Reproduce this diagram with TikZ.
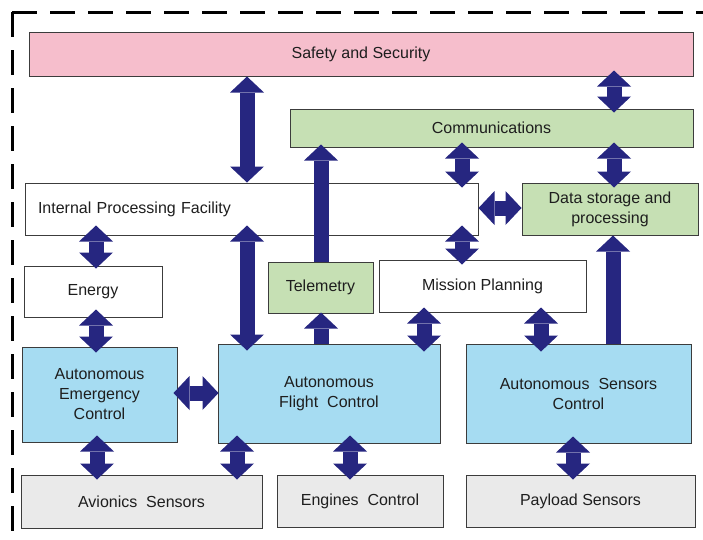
\documentclass[tikz,border=0pt]{standalone}
\usepackage{fontspec}
\setmainfont{Liberation Sans}
\usetikzlibrary{arrows.meta}
\definecolor{pinkf}{RGB}{246,190,204}
\definecolor{greenf}{RGB}{198,224,180}
\definecolor{bluef}{RGB}{166,220,242}
\definecolor{grayf}{RGB}{234,234,234}
\definecolor{boxline}{RGB}{60,60,60}
\definecolor{txt}{RGB}{30,30,30}
\definecolor{navy}{RGB}{38,38,128}
\tikzset{
  box/.style={draw=boxline, line width=1pt, inner sep=0pt, align=center,
    font=\fontsize{16}{20}\selectfont, text=txt},
  bx/.style 2 args={box, minimum width=#1pt, minimum height=#2pt},
  bar/.style={draw=navy, line width=15pt},
  dbl/.style={bar, {Triangle[width=34pt,length=16pt,line width=0pt]}-{Triangle[width=34pt,length=16pt,line width=0pt]}, shorten <=-5pt, shorten >=-5pt},
  sgl/.style={bar, -{Triangle[width=34pt,length=16pt,line width=0pt]}, shorten >=-3pt},
  frame/.style={line width=3pt, dash pattern=on 25pt off 13pt}
}
\begin{document}
\begin{tikzpicture}[x=1pt,y=-1pt]
\useasboundingbox (0,0) rectangle (703,539);
% dashed frame (top and left)
\draw[frame] (12,12) -- (12,539);
\draw[frame] (12,12) -- (703,12);
% boxes
\node[bx={664}{44}, fill=pinkf] (ss) at (361,54) {Safety and Security};
\node[bx={403}{38}, fill=greenf] (comm) at (491.5,128) {Communications};
\node[box, fill=white, minimum height=52pt, text width=427pt, inner xsep=13pt, align=left] (ipf) at (251.5,209) {Internal Processing Facility};
\node[bx={176}{52}, fill=greenf] (ds) at (610,209) {Data storage and\\processing};
\node[bx={138}{51}, fill=white] (en) at (93,291.5) {Energy};
\node[bx={105}{51}, fill=greenf] (tel) at (320.5,287.5) {Telemetry};
\node[bx={207}{52}, fill=white] (mp) at (482.5,286) {Mission Planning};
\node[bx={155}{95}, fill=bluef] (ec) at (99.5,394.5) {Autonomous\\Emergency\\Control};
\node[bx={222}{99}, fill=bluef] (fc) at (329,393.5) {Autonomous\\Flight~ Control};
\node[bx={225}{99}, fill=bluef] (sc) at (578.5,393.5) {Autonomous~ Sensors\\Control};
\node[bx={241}{53}, fill=grayf] (av) at (141.5,501.5) {Avionics~ Sensors};
\node[bx={166}{52}, fill=grayf] (eng) at (360,501) {Engines~ Control};
\node[bx={229}{52}, fill=grayf] (pay) at (580.5,501) {Payload Sensors};
% connectors
\draw[dbl, shorten <=0pt, shorten >=0pt] (247,0 |- ss.south) -- (247,0 |- ipf.north);
\draw[dbl, shorten <=-6pt, shorten >=-4pt] (614,0 |- ss.south) -- (614,0 |- comm.north);
\draw[dbl] (462,0 |- comm.south) -- (462,0 |- ipf.north);
\draw[dbl] (614,0 |- comm.south) -- (614,0 |- ds.north);
\draw[dbl, shorten <=0pt, shorten >=0pt] (ipf.east |- 0,208) -- (ds.west |- 0,208);
\draw[sgl] (321,0 |- tel.north) -- (321,0 |- comm.south);
\draw[dbl, shorten <=-10pt, shorten >=-3pt] (96,0 |- ipf.south) -- (96,0 |- en.north);
\draw[dbl, shorten <=-10pt, shorten >=-7pt] (247,0 |- ipf.south) -- (247,0 |- fc.north);
\draw[dbl, shorten <=-10pt, shorten >=-5pt] (462,0 |- ipf.south) -- (462,0 |- mp.north);
\draw[sgl, shorten >=-1pt] (321,0 |- fc.north) -- (321,0 |- tel.south);
\draw[sgl, shorten >=0pt] (613,0 |- sc.north) -- (613,0 |- ds.south);
\draw[dbl, shorten <=-5pt, shorten >=-8pt] (424,0 |- mp.south) -- (424,0 |- fc.north);
\draw[dbl, shorten <=-5pt, shorten >=-8pt] (541,0 |- mp.south) -- (541,0 |- sc.north);
\draw[dbl, shorten <=-8pt, shorten >=-6pt] (96,0 |- en.south) -- (96,0 |- ec.north);
\draw[dbl, shorten <=-4pt, shorten >=-1pt] (ec.east |- 0,393) -- (fc.west |- 0,393);
\draw[dbl, shorten <=-7pt, shorten >=-5pt] (97,0 |- ec.south) -- (97,0 |- av.north);
\draw[dbl, shorten <=-8pt, shorten >=-5pt] (237,0 |- fc.south) -- (237,0 |- av.north);
\draw[dbl, shorten <=-8pt, shorten >=-5pt] (350,0 |- fc.south) -- (350,0 |- eng.north);
\draw[dbl, shorten <=-7pt, shorten >=-5pt] (573,0 |- sc.south) -- (573,0 |- pay.north);
\end{tikzpicture}
\end{document}
